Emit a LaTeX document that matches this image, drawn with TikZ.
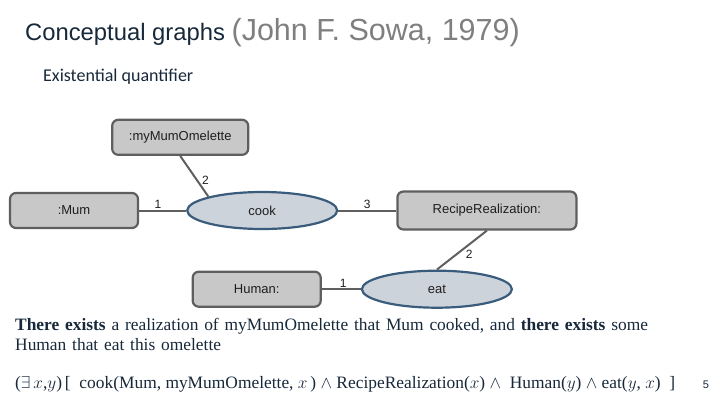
\documentclass[tikz,border=0pt]{standalone}
\usepackage{fontspec}
\setmainfont{Liberation Serif}
\setsansfont{Liberation Sans}
\newfontfamily\calibri{Carlito}
\usepackage{xcolor}
\definecolor{titlenavy}{HTML}{17283A}
\definecolor{titlegray}{HTML}{7F7F7F}
\definecolor{boxfill}{HTML}{C8C8C8}
\definecolor{boxdraw}{HTML}{5F5F5F}
\definecolor{relfill}{HTML}{CDD3DA}
\definecolor{reldraw}{HTML}{3A5C7C}
\definecolor{nodetext}{HTML}{1E1E1E}
\usetikzlibrary{positioning, shapes.geometric}

\begin{document}
\begin{tikzpicture}[x=1pt, y=-1pt,
    concept/.style={rectangle, rounded corners=6pt, draw=boxdraw, fill=boxfill, line width=2.2pt, minimum width=#1, minimum height=35pt, text=nodetext, font=\sffamily\fontsize{13}{15}\selectfont, inner sep=0pt},
    relation/.style={ellipse, draw=reldraw, fill=relfill, line width=2.2pt, minimum width=150pt, minimum height=37pt, text=nodetext, font=\sffamily\fontsize{13}{15}\selectfont, inner sep=0pt},
    arc/.style={draw=boxdraw, line width=2pt},
    num/.style={font=\sffamily\fontsize{12}{14}\selectfont, text=nodetext, inner sep=1pt},
]
    \useasboundingbox (0,0) rectangle (720,405);

    % heading
    \node[anchor=base west, inner sep=0pt] (title) at (25,40) {\sffamily\fontsize{23.8}{26}\selectfont\color{titlenavy}Conceptual graphs \fontsize{30.5}{32}\selectfont\color{titlegray}(John F. Sowa, 1979)};
    \node[anchor=base west, inner sep=0pt, text=titlenavy] (sub) at (43,81) {\calibri\fontsize{18}{20}\selectfont Existential quantifier};

    % graph
    \node[concept=128pt] (mum) at (74,210.5) {:Mum};
    \node[relation, right=47pt of mum] (cook) {cook};
    \node[concept=136pt, above=35pt of cook, xshift=-82pt] (omelette) {:myMumOmelette};
    \node[concept=179pt, minimum height=38pt, right=58pt of cook] (recipe) {RecipeRealization:};
    \node[relation, below=39pt of recipe, xshift=-50pt] (eat) {eat};
    \node[concept=128pt, left=39pt of eat] (human) {Human:};

    \draw[arc] (mum) -- node[num, above, pos=0.4] {1} (cook);
    \draw[arc] (omelette.south) -- node[num, right=3pt, pos=0.6] {2} (cook.north west);
    \draw[arc] (recipe.south) -- node[num, right=7pt, pos=0.6] {2} (eat.north);
    \draw[arc] (cook) -- node[num, above] {3} (recipe);
    \draw[arc] (human) -- node[num, above, pos=0.55] {1} (eat);

    % explanation
    \node[anchor=north west, inner sep=0pt, text width=690pt, text=titlenavy, font=\fontsize{17.4}{20}\selectfont] (text) at (15,318) {\textbf{There exists} a realization of myMumOmelette that Mum cooked, and \textbf{there exists} some\\Human that eat this omelette};
    \node[anchor=base west, inner sep=0pt, text=titlenavy, font=\fontsize{17.4}{19}\selectfont] (formula) at (15,388) {($\exists\,x$,$y$)\,[\ \ cook(Mum, myMumOmelette, $x$\,) $\wedge$ RecipeRealization($x$) $\wedge$\ \ Human($y$) $\wedge$ eat($y$, $x$)\ \ ]};
    \node[anchor=base, inner sep=0pt, text=titlenavy, font=\sffamily\fontsize{11}{13}\selectfont] (page) at (706,388) {5};
\end{tikzpicture}
\end{document}
